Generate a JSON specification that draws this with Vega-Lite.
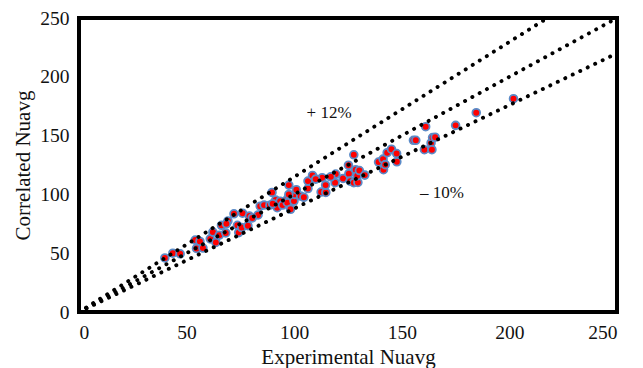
{
  "$schema": "https://vega.github.io/schema/vega-lite/v6.json",
  "width": 538,
  "height": 294,
  "autosize": {"type": "none"},
  "padding": {"left": 79, "top": 18, "right": 26, "bottom": 56},
  "background": "white",
  "config": {
    "view": {"stroke": "black", "strokeWidth": 4},
    "font": "Liberation Serif",
    "axis": {
      "grid": false,
      "domain": false,
      "ticks": false,
      "labelFont": "Liberation Serif",
      "labelFontSize": 19.5,
      "labelColor": "#111111",
      "titleFont": "Liberation Serif",
      "titleFontSize": 21,
      "titleFontWeight": "normal",
      "titleColor": "#111111"
    }
  },
  "datasets": {
    "points": [
      {"exp": 39.9, "cor": 46}, {"exp": 43.6, "cor": 50}, {"exp": 47, "cor": 49.5},
      {"exp": 54, "cor": 61.2}, {"exp": 56.2, "cor": 60}, {"exp": 54.6, "cor": 54},
      {"exp": 57.6, "cor": 54.4}, {"exp": 61, "cor": 62.2}, {"exp": 62.2, "cor": 68},
      {"exp": 63.6, "cor": 59.1}, {"exp": 65.2, "cor": 65.3}, {"exp": 66.2, "cor": 73.7},
      {"exp": 68.2, "cor": 67.2}, {"exp": 69.2, "cor": 77.4}, {"exp": 73.6, "cor": 73.7},
      {"exp": 74.2, "cor": 67.5}, {"exp": 75.6, "cor": 71.8}, {"exp": 78.5, "cor": 73.4},
      {"exp": 72, "cor": 83.5}, {"exp": 76, "cor": 84}, {"exp": 79.2, "cor": 81.6},
      {"exp": 83.2, "cor": 82.5}, {"exp": 80.5, "cor": 80}, {"exp": 84.2, "cor": 90},
      {"exp": 86, "cor": 90.9}, {"exp": 88.7, "cor": 90.8}, {"exp": 89.7, "cor": 101.7},
      {"exp": 91.4, "cor": 95.2}, {"exp": 92.1, "cor": 88.7}, {"exp": 93.5, "cor": 94.2},
      {"exp": 94.6, "cor": 90.9}, {"exp": 96.8, "cor": 96}, {"exp": 96.8, "cor": 93},
      {"exp": 97.5, "cor": 107.9}, {"exp": 98.3, "cor": 87.3}, {"exp": 99.1, "cor": 98.6},
      {"exp": 99.9, "cor": 94.3}, {"exp": 100.3, "cor": 100}, {"exp": 101, "cor": 104},
      {"exp": 97.5, "cor": 100}, {"exp": 103, "cor": 98.6}, {"exp": 104.5, "cor": 97.5},
      {"exp": 106.4, "cor": 105}, {"exp": 106.4, "cor": 111.3}, {"exp": 108.5, "cor": 116.1},
      {"exp": 112.5, "cor": 102}, {"exp": 114.7, "cor": 101.7}, {"exp": 113, "cor": 114.2},
      {"exp": 114.6, "cor": 107.9}, {"exp": 119.3, "cor": 117.3}, {"exp": 119, "cor": 110},
      {"exp": 122.7, "cor": 113.6}, {"exp": 125.2, "cor": 124.8}, {"exp": 125.4, "cor": 117.6},
      {"exp": 126, "cor": 111.3}, {"exp": 127.7, "cor": 133.7}, {"exp": 127.7, "cor": 110},
      {"exp": 128.6, "cor": 121}, {"exp": 129.6, "cor": 110.2}, {"exp": 129.3, "cor": 115.8},
      {"exp": 130.3, "cor": 120.3}, {"exp": 132.8, "cor": 116.4}, {"exp": 139.2, "cor": 127.5},
      {"exp": 141.3, "cor": 130}, {"exp": 141.5, "cor": 121}, {"exp": 142.3, "cor": 125.3},
      {"exp": 143.2, "cor": 135.5}, {"exp": 145.2, "cor": 138.4}, {"exp": 147.6, "cor": 134.7},
      {"exp": 147.7, "cor": 127.7}, {"exp": 155.4, "cor": 146}, {"exp": 156.5, "cor": 146},
      {"exp": 160.5, "cor": 138}, {"exp": 161.1, "cor": 157.6}, {"exp": 163.6, "cor": 143.8},
      {"exp": 164, "cor": 138}, {"exp": 164.3, "cor": 148.3}, {"exp": 165.5, "cor": 148.6},
      {"exp": 175, "cor": 158.7}, {"exp": 184.6, "cor": 169.5}, {"exp": 201.9, "cor": 181.4},
      {"exp": 68.5, "cor": 75}, {"exp": 90, "cor": 92}, {"exp": 110, "cor": 113},
      {"exp": 117, "cor": 115}
    ],
    "lines": [
      {"line": "upper", "exp": 0, "cor": 0}, {"line": "upper", "exp": 217.7, "cor": 250},
      {"line": "equal", "exp": 0, "cor": 0}, {"line": "equal", "exp": 250, "cor": 250},
      {"line": "lower", "exp": 0, "cor": 0}, {"line": "lower", "exp": 250, "cor": 220}
    ],
    "labels": [
      {"exp": 116.2, "cor": 169.2, "text": "+ 12%"},
      {"exp": 168.7, "cor": 101.2, "text": "– 10%"}
    ]
  },
  "layer": [
    {
      "data": {"name": "points"},
      "mark": {"type": "point", "shape": "circle", "filled": true, "fill": "#ff0000", "stroke": "#5b8bc8", "strokeWidth": 1.8, "size": 60, "opacity": 1},
      "encoding": {
        "x": {"field": "exp", "type": "quantitative", "scale": {"domain": [0, 250], "nice": false}, "axis": {"values": [0, 50, 100, 150, 200, 250], "title": "Experimental Nuavg", "labelPadding": 11, "titlePadding": 5}},
        "y": {"field": "cor", "type": "quantitative", "scale": {"domain": [0, 250], "nice": false}, "axis": {"values": [0, 50, 100, 150, 200, 250], "title": "Correlated Nuavg", "labelPadding": 10, "titlePadding": 6}}
      }
    },
    {
      "data": {"name": "lines"},
      "mark": {"type": "line", "color": "black", "strokeWidth": 3.9, "strokeCap": "round", "strokeDash": [0.1, 8.2]},
      "encoding": {
        "x": {"field": "exp", "type": "quantitative"},
        "y": {"field": "cor", "type": "quantitative"},
        "detail": {"field": "line"}
      }
    },
    {
      "data": {"name": "labels"},
      "mark": {"type": "text", "font": "Liberation Serif", "fontSize": 17, "color": "#111111", "align": "center", "baseline": "middle"},
      "encoding": {
        "x": {"field": "exp", "type": "quantitative"},
        "y": {"field": "cor", "type": "quantitative"},
        "text": {"field": "text"}
      }
    }
  ]
}
